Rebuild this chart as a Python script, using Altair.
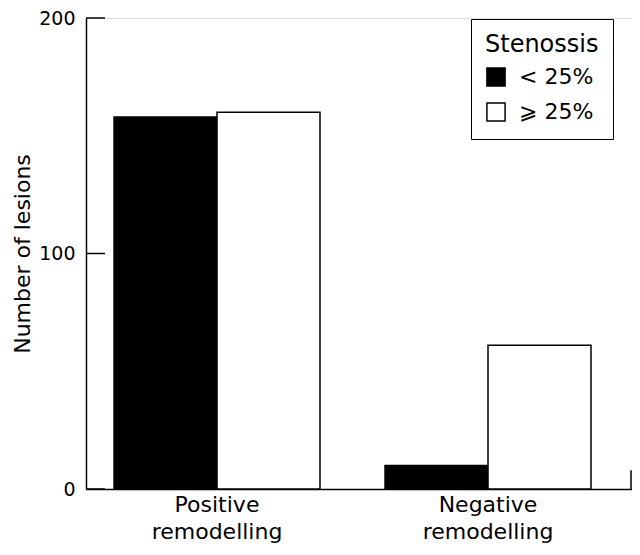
import altair as alt
import pandas as pd

categories = ["Positive remodelling", "Negative remodelling"]
groups = ["< 25%", "⩾ 25%"]
less25 = [158, 10]
geq25 = [160, 61]
y_ticks = [0, 100, 200]

rows = []
for c, a, b in zip(categories, less25, geq25):
    rows.append({"cat": c, "grp": groups[0], "n": a})
    rows.append({"cat": c, "grp": groups[1], "n": b})
df = pd.DataFrame(rows)
ticks_df = pd.DataFrame({"v": y_ticks})

FONT = "DejaVu Sans"
W, H = 546, 471

yscale = alt.Scale(domain=[0, 200], nice=False)

bars = alt.Chart(df).mark_bar(stroke="black", strokeWidth=1.5).encode(
    x=alt.X("cat:N", sort=categories, title=None,
            scale=alt.Scale(paddingInner=0.24, paddingOuter=0.1274, align=0.406),
            axis=alt.Axis(labelExpr="split(datum.label, ' ')", labelFontSize=22,
                          labelFont=FONT, labelColor="black", labelAngle=0,
                          labelLineHeight=27, labelPadding=5, ticks=False,
                          domainColor="black", domainWidth=1.5, labelBaseline="top")),
    xOffset=alt.XOffset("grp:N", sort=groups,
                        scale=alt.Scale(paddingInner=0, paddingOuter=0)),
    y=alt.Y("n:Q", scale=yscale, title="Number of lesions",
            axis=alt.Axis(values=y_ticks, ticks=False, grid=False, labelFontSize=19,
                          labelFont=FONT, labelColor="black", labelPadding=11,
                          titleFont=FONT, titleFontSize=22, titleFontWeight="normal",
                          titleColor="black", titlePadding=4,
                          domainColor="black", domainWidth=1.5)),
    color=alt.Color("grp:N", sort=groups,
                    scale=alt.Scale(domain=groups, range=["black", "white"]),
                    legend=alt.Legend(title="Stenossis", orient="none",
                                      legendX=385, legendY=1,
                                      strokeColor="black", padding=14,
                                      titleFont=FONT, titleFontSize=24,
                                      titleFontWeight="normal", titleColor="black",
                                      titlePadding=9,
                                      labelFont=FONT, labelFontSize=22,
                                      labelColor="black", labelOffset=12,
                                      symbolType="square", symbolSize=330,
                                      symbolStrokeColor="black",
                                      symbolStrokeWidth=1.5, rowPadding=9)),
)

yticks = alt.Chart(ticks_df).mark_rule(color="black", strokeWidth=1.5).encode(
    x=alt.value(0), x2=alt.value(19), y=alt.Y("v:Q", scale=yscale)
)

end_tick = alt.Chart(pd.DataFrame({"v": [0]})).mark_rule(color="black", strokeWidth=1.5).encode(
    x=alt.value(W - 1), y=alt.Y("v:Q", scale=yscale), y2=alt.datum(8)
)

chart = alt.layer(bars, yticks, end_tick).properties(
    width=W, height=H,
    autosize=alt.AutoSizeParams(type="none"),
    padding={"left": 78, "top": 10, "right": 0, "bottom": 58},
).configure_view(stroke=None).configure(background="white")

chart.save("out.html", embed_options={"renderer": "svg", "actions": False})
